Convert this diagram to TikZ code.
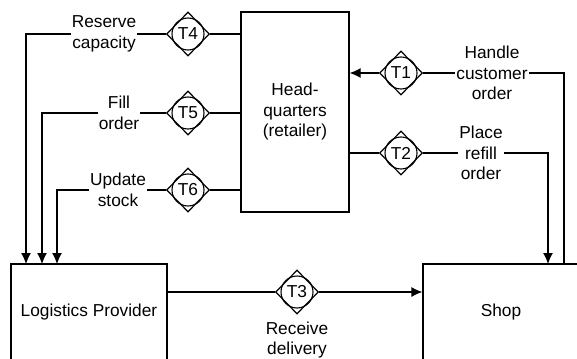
\documentclass[tikz,border=0pt]{standalone}
\usepackage{fontspec}
\setmainfont{Liberation Sans}
\usetikzlibrary{shapes.geometric,arrows.meta}
\begin{document}
\begin{tikzpicture}[x=1pt,y=-1pt,
  every node/.style={font=\fontsize{17.3}{20.5}\selectfont},
  box/.style={draw,line width=1.2pt,inner sep=0pt,align=center},
  tdiam/.style={draw,shape=diamond,line width=1.2pt,minimum width=43pt,minimum height=44pt,inner sep=0pt},
  tcirc/.style={draw,circle,line width=1.1pt,minimum size=32pt,inner sep=0pt},
  conn/.style={line width=1.2pt},
  arr/.style={line width=1.2pt,-{Latex[length=11pt,width=10pt]}},
  lab/.style={fill=white,align=center,inner sep=1pt}]
\useasboundingbox (0,0) rectangle (577,358);
\clip (0,0) rectangle (577,358);
% boxes
\node[box,minimum width=108pt,minimum height=200pt] (hq) at (295,112) {Head-\\quarters\\(retailer)};
\node[box,minimum width=156pt,minimum height=96pt] (lp) at (89,312) {Logistics Provider};
\node[box,minimum width=156pt,minimum height=96pt] (shop) at (501,312) {Shop};
% transactions
\foreach \n/\px/\py in {t1/401/73,t2/401/153,t3/297/292,t4/188/34,t5/188/113,t6/188/190}{
  \node[tcirc] (\n c) at (\px,\py) {};
  \node[tdiam] (\n) at (\px,\py) {};
}
\node at (t1) {T1};
\node at (t2) {T2};
\node at (t3) {T3};
\node at (t4) {T4};
\node at (t5) {T5};
\node at (t6) {T6};
% free ends
\coordinate (a4) at (26,264);
\coordinate (a5) at (42,264);
\coordinate (a6) at (57,264);
\coordinate (h1) at (564,264);
\coordinate (p2) at (548,264);
% connectors
\draw[conn] (hq.west |- t4) -- (t4.east);
\draw[arr] (t4.west) -| (a4);
\draw[conn] (hq.west |- t5) -- (t5.east);
\draw[arr] (t5.west) -| (a5);
\draw[conn] (hq.west |- t6) -- (t6.east);
\draw[arr] (t6.west) -| (a6);
\draw[conn] (h1) |- (t1.east);
\draw[arr] (t1.west) -- (t1 -| hq.east);
\draw[conn] (hq.east |- t2) -- (t2.west);
\draw[arr] (t2.east) -| (p2);
\draw[conn] (lp.east |- t3) -- (t3.west);
\draw[arr] (t3.east) -- (t3 -| shop.west);
% labels
\node[lab] (l4) at (104,34) {Reserve\\capacity};
\node[lab] (l5) at (119,113) {Fill\\order};
\node[lab] (l6) at (118,190) {Update\\stock};
\node[lab] (l1) at (492,73) {Handle\\customer\\order};
\node[lab] (l2) at (481,153) {Place\\refill\\order};
\node[lab] (l3) at (297,340) {Receive\\delivery};
\end{tikzpicture}
\end{document}
